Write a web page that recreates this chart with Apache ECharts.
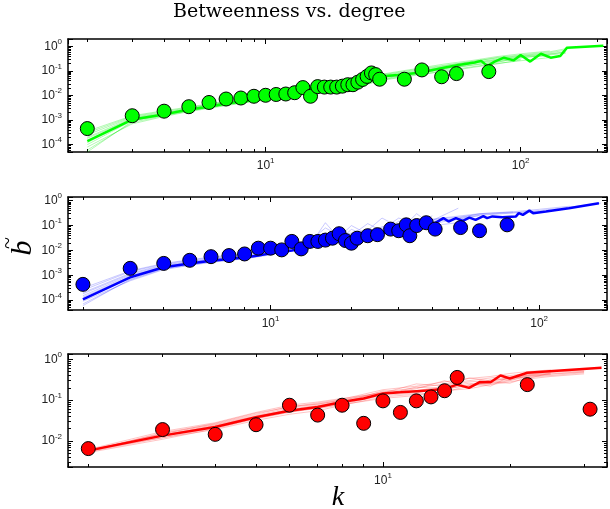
<!DOCTYPE html>
<html>
<head>
<meta charset="utf-8">
<script src="https://cdn.jsdelivr.net/npm/echarts@6/dist/echarts.min.js"></script>
<style>
html, body { margin: 0; padding: 0; background: #fff; }
#chart { width: 610px; height: 509px; }
</style>
</head>
<body>
<div id="chart"></div>
<script>
// top panel (green)
const greenK = [2, 3, 4, 5, 6, 7, 8, 9, 10, 11, 12, 13, 14, 15, 16, 17, 18, 19, 20, 21, 22, 23, 24, 25, 26, 27, 28, 35, 41, 49, 56, 75];
const greenB = [4.5e-4, 1.5e-3, 2.3e-3, 3.5e-3, 5.2e-3, 7.2e-3, 7.9e-3, 9.3e-3, 0.0102, 0.011, 0.0115, 0.013, 0.021, 0.0093, 0.023, 0.022, 0.022, 0.022, 0.024, 0.0275, 0.0275, 0.035, 0.045, 0.06, 0.083, 0.071, 0.046, 0.046, 0.11, 0.058, 0.078, 0.094];
const greenLineK = [2, 3, 4, 5, 6, 7, 8, 9, 10, 12, 14, 16, 18, 20, 22, 25, 28, 33, 40, 50, 57, 66, 70, 74, 79, 86, 94, 100, 109, 120, 131, 143, 152, 211];
const greenLineB = [1.4e-4, 1.05e-3, 1.7e-3, 2.7e-3, 3.5e-3, 4.7e-3, 5.6e-3, 6.6e-3, 7.6e-3, 0.011, 0.019, 0.022, 0.026, 0.032, 0.035, 0.042, 0.06, 0.069, 0.085, 0.135, 0.174, 0.22, 0.257, 0.158, 0.24, 0.347, 0.27, 0.447, 0.24, 0.5, 0.347, 0.407, 0.89, 1.05];
const greenRunK = [2, 3, 4, 5, 6, 8, 10, 13, 16, 20, 25, 30, 40, 50, 65, 80, 100, 130, 150];
const greenRuns = [
  [2.5e-4, 1.3e-3, 2.0e-3, 3.0e-3, 4.0e-3, 6.5e-3, 9.0e-3, 0.016, 0.024, 0.035, 0.048, 0.066, 0.1, 0.15, 0.22, 0.3, 0.4, 0.5, 0.6],
  [8e-5, 7e-4, 1.4e-3, 2.2e-3, 3.0e-3, 4.8e-3, 6.5e-3, 0.011, 0.017, 0.024, 0.03, 0.045, 0.07, 0.1, 0.15, 0.2, 0.26, 0.35],
  [1.8e-4, 1.1e-3, 1.8e-3, 2.6e-3, 3.6e-3, 5.8e-3, 8.2e-3, 0.015, 0.02, 0.03, 0.028, 0.055, 0.085, 0.12, 0.2, 0.26, 0.34, 0.45, 0.52],
  [5e-5, 9e-4, 1.6e-3, 2.4e-3, 3.3e-3, 5.2e-3, 7.4e-3, 0.013, 0.022, 0.028, 0.04, 0.05, 0.09, 0.13, 0.17, 0.24, 0.3],
  [3e-4, 1.4e-3, 2.2e-3, 3.2e-3, 4.4e-3, 6.8e-3, 0.01, 0.017, 0.019, 0.038, 0.045, 0.07, 0.11, 0.16, 0.25, 0.33, 0.42, 0.55, 0.7],
  [1.2e-4, 1.0e-3, 1.7e-3, 2.7e-3, 3.8e-3, 6.0e-3, 8.6e-3, 0.014, 0.021, 0.033, 0.037, 0.06, 0.08, 0.11, 0.18, 0.22, 0.36, 0.42],
  [2e-4, 1.2e-3, 1.9e-3, 2.9e-3, 4.2e-3, 6.2e-3, 9.5e-3, 0.018, 0.026, 0.04, 0.055, 0.075, 0.12, 0.17, 0.24, 0.35, 0.45, 0.6, 0.8],
  [6e-5, 8e-4, 1.5e-3, 2.3e-3, 3.2e-3, 5e-3, 7e-3, 0.012, 0.018, 0.026, 0.034, 0.048, 0.075, 0.09, 0.14, 0.19, 0.28],
  [3.5e-4, 1.5e-3, 2.4e-3, 3.4e-3, 4.6e-3, 7.2e-3, 0.011, 0.019, 0.028, 0.042, 0.06, 0.08, 0.13, 0.19, 0.27, 0.38, 0.5, 0.65],
  [1e-4, 9.5e-4, 1.65e-3, 2.5e-3, 3.5e-3, 5.5e-3, 7.8e-3, 0.014, 0.016, 0.026, 0.05, 0.058, 0.095, 0.14, 0.21, 0.28, 0.38, 0.48, 0.58]
];

// middle panel (blue)
const blueK = [2, 3, 4, 5, 6, 7, 8, 9, 10, 11, 12, 13, 14, 15, 16, 17, 18, 19, 20, 21, 23, 25, 28, 30, 32, 33, 35, 38, 41, 51, 60, 76];
const blueB = [4.3e-4, 1.9e-3, 3.0e-3, 4.0e-3, 5.6e-3, 6.2e-3, 7.2e-3, 0.0123, 0.0123, 0.0105, 0.023, 0.0115, 0.023, 0.023, 0.026, 0.031, 0.047, 0.025, 0.0195, 0.031, 0.039, 0.043, 0.072, 0.062, 0.107, 0.039, 0.1, 0.13, 0.072, 0.083, 0.062, 0.107];
const blueLineK = [2, 3, 4, 5, 6, 7, 8, 9, 10, 12, 14, 16, 18, 20, 23, 26, 31, 35, 38, 41, 44, 46, 49, 52, 55, 58, 62, 64, 67, 73, 82, 84, 87, 92, 95, 106, 129, 167];
const blueLineB = [1.07e-4, 8.3e-4, 2.1e-3, 3.0e-3, 3.8e-3, 4.5e-3, 5.2e-3, 6.3e-3, 7.6e-3, 0.01, 0.014, 0.02, 0.025, 0.032, 0.04, 0.05, 0.079, 0.1, 0.112, 0.126, 0.2, 0.145, 0.2, 0.155, 0.21, 0.17, 0.24, 0.2, 0.234, 0.214, 0.234, 0.316, 0.27, 0.4, 0.316, 0.37, 0.5, 0.79];
const blueRunK = [2, 3, 4, 5, 6, 8, 10, 12, 14, 16, 18, 20, 23, 26, 30, 35, 40, 50, 60, 80, 100, 130, 170];
const blueRuns = [
  [2e-4, 1.2e-3, 2.6e-3, 3.6e-3, 4.6e-3, 6.5e-3, 0.011, 0.015, 0.03, 0.025, 0.06, 0.035, 0.05, 0.09, 0.1, 0.13, 0.16, 0.5],
  [9e-5, 6e-4, 1.7e-3, 2.5e-3, 3.3e-3, 4.6e-3, 6.6e-3, 0.012, 0.016, 0.13, 0.03, 0.04, 0.035, 0.06, 0.09, 0.08, 0.12, 0.18, 0.25],
  [1.5e-4, 1.0e-3, 2.2e-3, 3.2e-3, 4.2e-3, 5.8e-3, 9e-3, 0.02, 0.02, 0.03, 0.035, 0.1, 0.045, 0.055, 0.15, 0.11, 0.14, 0.2, 0.3, 0.35],
  [6e-5, 7e-4, 1.9e-3, 2.8e-3, 3.6e-3, 5e-3, 8e-3, 0.011, 0.018, 0.022, 0.028, 0.03, 0.07, 0.04, 0.06, 0.3, 0.1, 0.13],
  [2.5e-4, 1.4e-3, 2.8e-3, 4e-3, 5e-3, 7e-3, 0.012, 0.014, 0.025, 0.04, 0.032, 0.045, 0.06, 0.08, 0.075, 0.14, 0.17, 0.22, 0.28, 0.33, 0.4, 0.55, 0.8],
  [1.1e-4, 8e-4, 2.0e-3, 3e-3, 3.9e-3, 5.4e-3, 7.5e-3, 0.013, 0.017, 0.02, 0.09, 0.028, 0.042, 0.05, 0.07, 0.09, 0.11],
  [1.8e-4, 1.1e-3, 2.4e-3, 3.4e-3, 4.4e-3, 6.2e-3, 0.01, 0.016, 0.022, 0.028, 0.05, 0.04, 0.12, 0.06, 0.11, 0.1, 0.15, 0.19, 0.26, 0.32, 0.38],
  [7e-5, 6.5e-4, 1.8e-3, 2.6e-3, 3.4e-3, 4.8e-3, 7e-3, 0.01, 0.03, 0.02, 0.026, 0.07, 0.04, 0.05, 0.065, 0.085, 0.25],
  [3e-4, 1.5e-3, 3e-3, 4.2e-3, 5.4e-3, 7.5e-3, 0.013, 0.017, 0.024, 0.08, 0.04, 0.05, 0.065, 0.2, 0.09, 0.15, 0.18, 0.24, 0.3, 0.36, 0.45, 0.6],
  [1.3e-4, 9e-4, 2.1e-3, 3.1e-3, 4e-3, 5.6e-3, 8.5e-3, 0.014, 0.019, 0.024, 0.03, 0.036, 0.05, 0.07, 0.2, 0.12, 0.13]
];

// bottom panel (red)
const redK = [2, 3, 4, 5, 6, 7, 8, 9, 10, 11, 12, 13, 14, 15, 22, 31];
const redB = [0.0065, 0.019, 0.0145, 0.025, 0.075, 0.043, 0.075, 0.027, 0.096, 0.05, 0.096, 0.12, 0.17, 0.36, 0.24, 0.06];
const redLineK = [2, 3, 4, 5, 6, 7, 8, 9, 10, 11, 12, 13, 14, 15, 16, 17, 18, 19, 20, 22, 33];
const redLineB = [0.0058, 0.0135, 0.022, 0.038, 0.055, 0.068, 0.09, 0.11, 0.145, 0.155, 0.165, 0.175, 0.19, 0.24, 0.2, 0.28, 0.275, 0.4, 0.34, 0.47, 0.62];
const redRunK = [2, 3, 4, 5, 6, 7, 8, 10, 12, 14, 16, 18, 20, 22, 25, 30];
const redRuns = [
  [0.0055, 0.016, 0.026, 0.045, 0.07, 0.08, 0.1, 0.16, 0.2, 0.25, 0.3, 0.35, 0.4, 0.45, 0.5, 0.55],
  [0.006, 0.012, 0.019, 0.032, 0.045, 0.055, 0.075, 0.12, 0.14, 0.16, 0.22, 0.25, 0.3, 0.38, 0.42],
  [0.0058, 0.014, 0.024, 0.04, 0.06, 0.075, 0.095, 0.14, 0.19, 0.3, 0.2, 0.32, 0.35, 0.42, 0.48, 0.52],
  [0.0052, 0.011, 0.02, 0.035, 0.05, 0.065, 0.08, 0.13, 0.15, 0.2, 0.26, 0.22, 0.38, 0.34, 0.46],
  [0.0062, 0.017, 0.028, 0.05, 0.075, 0.09, 0.11, 0.15, 0.25, 0.22, 0.28, 0.3, 0.33, 0.4, 0.44, 0.5],
  [0.0056, 0.013, 0.022, 0.038, 0.055, 0.07, 0.085, 0.17, 0.16, 0.18, 0.24, 0.28, 0.26, 0.36, 0.4, 0.47],
  [0.0057, 0.015, 0.027, 0.048, 0.068, 0.085, 0.105, 0.18, 0.22, 0.28, 0.34, 0.38, 0.45, 0.5, 0.55],
  [0.0054, 0.012, 0.021, 0.036, 0.052, 0.062, 0.078, 0.11, 0.13, 0.17, 0.19, 0.24, 0.28, 0.33, 0.38, 0.44],
  [0.006, 0.015, 0.025, 0.042, 0.065, 0.08, 0.1, 0.15, 0.17, 0.22, 0.35, 0.3, 0.34, 0.41, 0.46],
  [0.0059, 0.014, 0.023, 0.04, 0.058, 0.072, 0.09, 0.135, 0.21, 0.19, 0.23, 0.27, 0.31, 0.39, 0.43, 0.49]
];

const panels = [
  { k: greenK, b: greenB, lineK: greenLineK, lineB: greenLineB, runK: greenRunK, runs: greenRuns,
    color: '#00ff00', faint: 'rgba(0,235,0,0.3)', top: 39, height: 113, x: [1.68, 218], y: [5e-5, 2.0] },
  { k: blueK, b: blueB, lineK: blueLineK, lineB: blueLineB, runK: blueRunK, runs: blueRuns,
    color: '#0000ff', faint: 'rgba(60,60,255,0.28)', top: 197, height: 113, x: [1.76, 179], y: [4e-5, 1.41] },
  { k: redK, b: redB, lineK: redLineK, lineB: redLineB, runK: redRunK, runs: redRuns,
    color: '#ff0000', faint: 'rgba(255,60,60,0.3)', top: 354, height: 113, x: [1.79, 34], y: [2.3e-3, 1.35] }
];

const tickFont = '"Liberation Sans", Arial, sans-serif';
const rich = {
  b: { fontSize: 12, fontFamily: tickFont, color: '#222' },
  s: { fontSize: 8, fontFamily: tickFont, color: '#222', padding: [0, 0, 9, 0] }
};

function powLabel(v) {
  const l = Math.log10(v);
  const e = Math.round(l);
  if (Math.abs(l - e) > 1e-6) return '';
  return '{b|10}{s|' + e + '}';
}

function minorVals(range) {
  const out = [];
  for (let e = Math.floor(Math.log10(range[0])); e <= Math.ceil(Math.log10(range[1])); e++) {
    for (let m = 2; m <= 9; m++) {
      const v = m * Math.pow(10, e);
      if (v > range[0] && v < range[1]) out.push(v);
    }
  }
  return out;
}

const grids = [], xAxes = [], yAxes = [], series = [];

panels.forEach((p, i) => {
  grids.push({ left: 68, width: 541, top: p.top, height: p.height });
  ['bottom', 'top'].forEach(pos => {
    xAxes.push({
      type: 'log', gridIndex: i, min: p.x[0], max: p.x[1], position: pos,
      axisLine: { show: true, onZero: false, lineStyle: { color: '#000', width: 1.5 } },
      axisTick: { inside: true, length: 5, lineStyle: { color: '#000' } },
      axisLabel: { show: pos === 'bottom', formatter: powLabel, rich: rich, margin: 5 },
      splitLine: { show: false }
    });
    xAxes.push({
      type: 'log', gridIndex: i, min: p.x[0], max: p.x[1], position: pos,
      axisLine: { show: false },
      axisTick: { inside: true, length: 3, customValues: minorVals(p.x), lineStyle: { color: '#000' } },
      axisLabel: { show: false }, splitLine: { show: false }
    });
  });
  ['left', 'right'].forEach(pos => {
    yAxes.push({
      type: 'log', gridIndex: i, min: p.y[0], max: p.y[1], position: pos,
      axisLine: { show: true, onZero: false, lineStyle: { color: '#000', width: 1.5 } },
      axisTick: { inside: true, length: 5, lineStyle: { color: '#000' } },
      axisLabel: { show: pos === 'left', formatter: powLabel, rich: rich, margin: 6 },
      splitLine: { show: false }
    });
    yAxes.push({
      type: 'log', gridIndex: i, min: p.y[0], max: p.y[1], position: pos,
      axisLine: { show: false },
      axisTick: { inside: true, length: 3, customValues: minorVals(p.y), lineStyle: { color: '#000' } },
      axisLabel: { show: false }, splitLine: { show: false }
    });
  });

  p.runs.forEach(run => {
    series.push({
      type: 'line', xAxisIndex: 4 * i, yAxisIndex: 4 * i, silent: true,
      showSymbol: false, z: 1,
      lineStyle: { color: p.faint, width: 1 },
      data: run.map((v, j) => [p.runK[j], v])
    });
  });
  series.push({
    type: 'line', xAxisIndex: 4 * i, yAxisIndex: 4 * i, showSymbol: false, z: 2,
    lineStyle: { color: p.color, width: 2.5 },
    data: p.lineB.map((v, j) => [p.lineK[j], v])
  });
  series.push({
    type: 'scatter', xAxisIndex: 4 * i, yAxisIndex: 4 * i, z: 3, symbolSize: 14,
    itemStyle: { color: p.color, borderColor: '#000', borderWidth: 1, opacity: 1 },
    data: p.b.map((v, j) => [p.k[j], v])
  });
});

const chart = echarts.init(document.getElementById('chart'), null, { renderer: 'canvas' });
chart.setOption({
  animation: false,
  backgroundColor: '#fff',
  grid: grids,
  xAxis: xAxes,
  yAxis: yAxes,
  series: series,
  graphic: [
    { type: 'text', left: 173, top: 3,
      style: { text: 'Betweenness vs. degree', font: '19px "DejaVu Serif", serif', fill: '#000' } },
    { type: 'group', x: 23, y: 248, rotation: Math.PI / 2, children: [
      { type: 'text', x: 0, y: 0,
        style: { text: 'b', font: 'italic 30px "Liberation Serif", serif', fill: '#000', align: 'center', verticalAlign: 'middle' } },
      { type: 'text', x: 5, y: -15,
        style: { text: '~', font: '22px "Liberation Serif", serif', fill: '#000', align: 'center', verticalAlign: 'middle' } }
    ] },
    { type: 'text', x: 338, y: 498,
      style: { text: 'k', font: 'italic 28px "Liberation Serif", serif', fill: '#000', align: 'center', verticalAlign: 'middle' } }
  ]
});
</script>
</body>
</html>
